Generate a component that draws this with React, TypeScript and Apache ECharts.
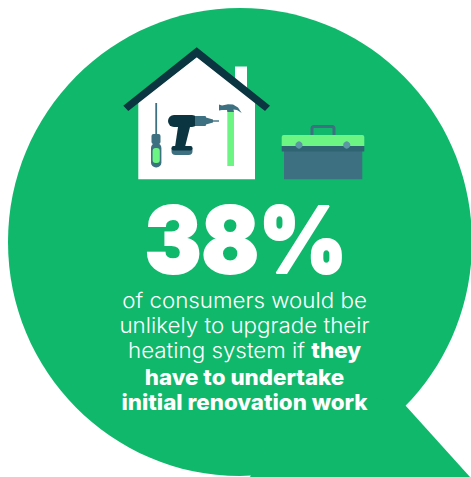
import React, { useEffect, useRef } from "react";
import * as echarts from "echarts";

const headline = "38%";
const captionLines = [
  "{r|of consumers would be}",
  "{r|unlikely to upgrade their}",
  "{r|heating system if }{b|they}",
  "{b|have to undertake}",
  "{b|initial renovation work}",
];
const captionY = [300, 325, 350, 377, 402];
const GREEN = "#10b86b";
const DARK = "#0b3540";
const TEAL = "#3d7080";
const LIME = "#6cf582";
const FONT = "Inter";

export default function App() {
  const ref = useRef<HTMLDivElement>(null);
  useEffect(() => {
    document.body.style.margin = "0";
    const chart = echarts.init(ref.current!, null, { renderer: "svg" });
    const poly = (points: number[][], fill: string) => ({ type: "polygon", shape: { points }, style: { fill } });
    const rect = (x: number, y: number, width: number, height: number, fill: string, r: any = 0) => ({
      type: "rect", shape: { x, y, width, height, r }, style: { fill },
    });
    chart.setOption({
      animation: false,
      graphic: [
        { type: "ellipse", shape: { cx: 240, cy: 242, rx: 232, ry: 234 }, style: { fill: GREEN } },
        poly([[405, 405], [470, 477], [250, 477], [300, 380]], GREEN),
        // house
        rect(235, 66.5, 12, 30, "#ffffff"),
        poly([[138.3, 179.3], [255, 179.3], [255, 102], [197, 57], [138.3, 102]], "#ffffff"),
        poly([[123.3, 105.7], [196.7, 47.3], [270, 105.7], [265, 111], [196.7, 57.3], [128.3, 111]], DARK),
        // screwdriver
        rect(155.3, 103, 1.8, 32, TEAL),
        rect(151.5, 134, 9, 10, TEAL, 2),
        rect(151, 143, 10.4, 24.5, TEAL, 5),
        rect(152.6, 148, 7.2, 15, LIME, 3),
        // drill
        rect(168, 115, 30, 12, DARK, 6),
        rect(195, 116, 11, 10, TEAL, 1),
        poly([[206, 117.5], [213, 119.5], [213, 122.5], [206, 124.5]], TEAL),
        rect(213, 120.3, 6, 1.4, TEAL),
        poly([[178, 127], [190, 127], [185, 147], [175, 147]], DARK),
        rect(171.5, 146, 21, 9, TEAL, 4),
        rect(171.5, 146, 21, 4.5, DARK, 2),
        // hammer
        rect(227.3, 112, 6.7, 54, LIME),
        poly([[219, 104.6], [222, 105.5], [228, 104.3], [233, 104.5], [238, 107.5], [241.7, 113], [237, 110], [233.5, 109.5], [234, 112], [227.3, 112], [227, 110], [222, 110], [219, 110.5]], TEAL),
        // toolbox
        { type: "rect", shape: { x: 312, y: 126.5, width: 22, height: 14, r: 2 }, style: { fill: "none", stroke: TEAL, lineWidth: 3 } },
        rect(284, 146, 78.3, 33.3, TEAL),
        rect(281.7, 146, 82.6, 5.5, "#2f6572"),
        rect(281.7, 135, 82.6, 11, LIME, [2, 2, 0, 0]),
        { type: "circle", shape: { cx: 299, cy: 145, r: 3.6 }, style: { fill: "#5d97a5" } },
        { type: "circle", shape: { cx: 346.7, cy: 145, r: 3.6 }, style: { fill: "#5d97a5" } },
        // text
        {
          type: "text", x: 246, y: 239, scaleX: 0.92,
          style: { text: headline, fill: "#fff", stroke: "#fff", lineWidth: 2, font: `900 92px ${FONT}`, align: "center", verticalAlign: "middle" },
        },
        ...captionLines.map((text, i) => ({
          type: "text", x: 244.5, y: captionY[i], scaleX: 1.04,
          style: {
            text, align: "center", verticalAlign: "middle",
            rich: {
              r: { fill: "#fff", fontFamily: FONT, fontSize: 21.5, fontWeight: 300 },
              b: { fill: "#fff", fontFamily: FONT, fontSize: 21.5, fontWeight: 800 },
            },
          },
        })),
      ],
    });
    return () => chart.dispose();
  }, []);
  return <div ref={ref} style={{ width: 471, height: 477, position: "absolute", left: 0, top: 0, overflow: "hidden" }} />;
}
